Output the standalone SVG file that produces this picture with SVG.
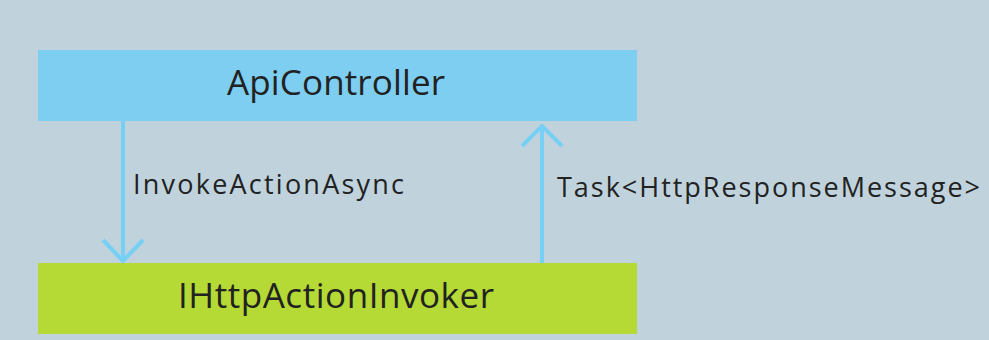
<svg xmlns="http://www.w3.org/2000/svg" width="989" height="340" viewBox="0 0 989 340">
<style>
.lbl{font-family:"Open Sans","Noto Sans",sans-serif;fill:#222;}
.node{font-size:35px;}
.edge{font-size:27px;}
.conn{stroke:#76d0f5;stroke-width:4;fill:none;}
</style>
<rect width="989" height="340" fill="#c0d3dd"/>
<g id="connectors">
<path class="conn" d="M123 121 V261 M103 240 L123 261 L143 240"/>
<path class="conn" d="M542 263 V126 M522 146 L542 126 L562 146"/>
<text class="lbl edge" x="133" y="194" textLength="271" lengthAdjust="spacing">InvokeActionAsync</text>
<text class="lbl edge" x="557" y="197" textLength="423" lengthAdjust="spacing">Task&lt;HttpResponseMessage&gt;</text>
</g>
<g id="ApiController">
<rect x="38" y="50" width="599" height="71" fill="#7dcef1"/>
<text class="lbl node" x="336" y="95" text-anchor="middle" textLength="218" lengthAdjust="spacing">ApiController</text>
</g>
<g id="IHttpActionInvoker">
<rect x="38" y="263" width="599" height="71" fill="#b5d935"/>
<text class="lbl node" x="336" y="308" text-anchor="middle" textLength="316" lengthAdjust="spacing">IHttpActionInvoker</text>
</g>
</svg>
